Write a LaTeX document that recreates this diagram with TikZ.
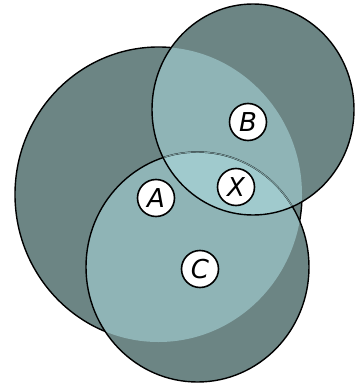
\documentclass[tikz,border=0pt]{standalone}
\usepackage{fontspec}
\setsansfont{DejaVu Sans}
\usetikzlibrary{positioning}
\definecolor{vennone}{HTML}{6C8584}
\definecolor{venntwo}{HTML}{8FB4B6}
\definecolor{vennthree}{HTML}{A0CACD}
\definecolor{vennseam}{HTML}{7FA1A3}

% the three sets
\def\setA{(158.5,194.5) ellipse [x radius=143.5pt, y radius=147.5pt]}
\def\setB{(253,109.5) ellipse [x radius=101pt, y radius=105.5pt]}
\def\setC{(197.5,267) ellipse [x radius=111.5pt, y radius=115pt]}

\begin{document}
\begin{tikzpicture}[x=1pt,y=-1pt]
 \tikzset{outline/.style={draw=black,line width=1.4pt},
          setlabel/.style={circle,draw=black,fill=white,line width=1.6pt,minimum size=37pt,inner sep=0pt,
                      font=\sffamily\itshape\fontsize{26}{26}\selectfont}}
 \useasboundingbox (0,0) rectangle (360,385);
 \fill[vennone] \setA; \draw[outline] \setA;
 \fill[vennone] \setB; \fill[vennone] \setC;
 % overlaps
 \begin{scope} \clip \setA; \fill[venntwo] \setB; \fill[venntwo] \setC; \end{scope}
 \begin{scope} \clip \setB; \fill[venntwo] \setC; \clip \setC; \fill[vennthree] \setA; \end{scope}
 \draw[outline] \setC;
 \begin{scope} \clip \setB; \draw[vennseam,line width=1pt] \setC; \end{scope}
 \draw[outline] \setB;
 \node[setlabel] (a) at (156,198) {A};
 \node[setlabel] (b) at (248,122) {B};
 \node[setlabel] (x) at (236,187) {X};
 \node[setlabel] (c) at (200,269) {C};
\end{tikzpicture}
\end{document}
